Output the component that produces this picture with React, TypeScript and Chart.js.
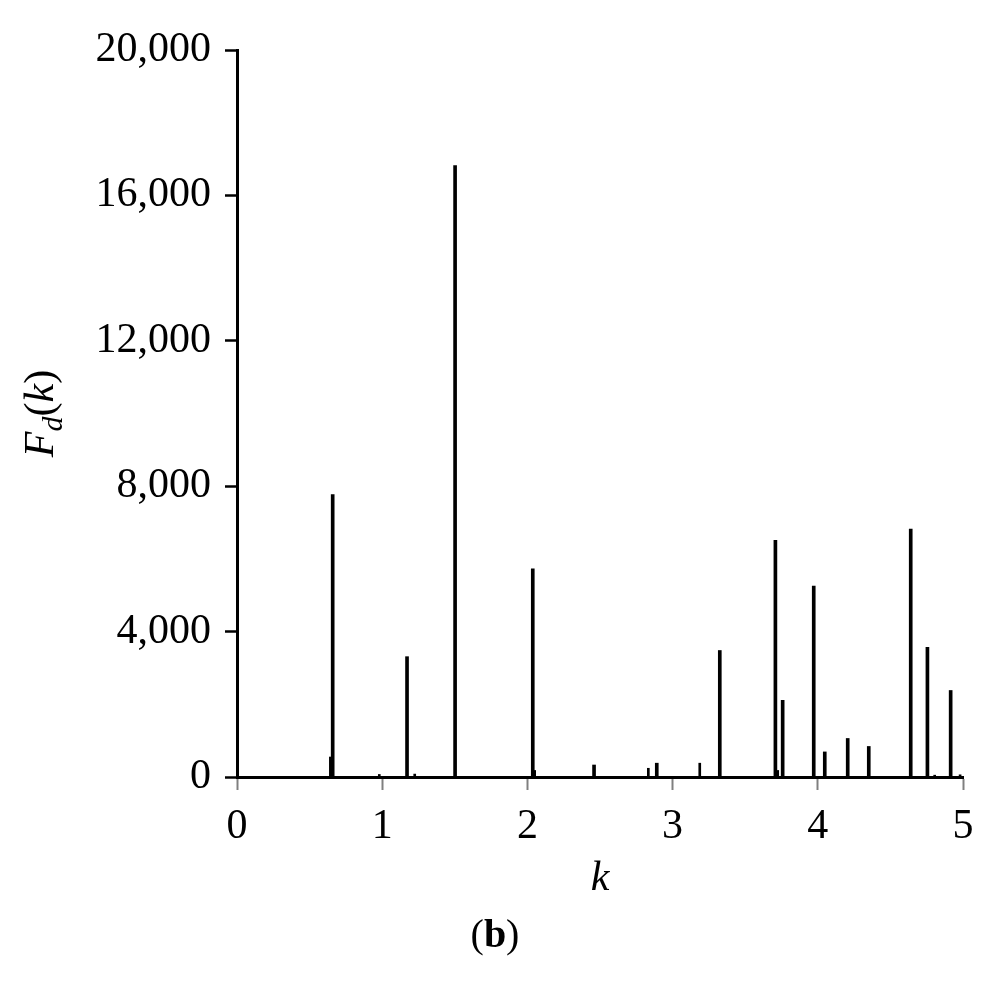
import React, { useEffect, useRef } from "react";
import { Chart, registerables } from "chart.js";

Chart.register(...registerables);

// Axis ticks
const xTicks = [0, 1, 2, 3, 4, 5];
const yTicks = [0, 4000, 8000, 12000, 16000, 20000];

// Main spectral lines: wavenumber k and amplitude F_d(k)
const majorK = [0.659, 1.171, 1.502, 2.037, 2.459, 2.891, 3.325, 3.708, 3.758, 3.972, 4.048, 4.206, 4.351, 4.64, 4.755, 4.915];
const majorF = [7770, 3310, 16820, 5730, 330, 380, 3480, 6510, 2110, 5250, 690, 1060, 840, 6820, 3570, 2380];

// Minor (thin) spectral lines
const minorK = [0.643, 0.98, 1.224, 2.05, 2.833, 3.187, 3.724, 4.805, 4.98];
const minorF = [550, 70, 80, 180, 240, 380, 180, 50, 60];

const FONT = '"Liberation Serif", "Times New Roman", serif';

const textPlugin = {
  id: "customText",
  afterDraw(chart: any) {
    const { ctx, chartArea } = chart;
    ctx.save();
    ctx.fillStyle = "#000";
    ctx.textBaseline = "alphabetic";
    // Y axis title F_d(k), rotated
    const parts = [
      { t: "F", f: `italic 42px ${FONT}`, dy: 0 },
      { t: "d", f: `italic 30px ${FONT}`, dy: 9 },
      { t: "(", f: `42px ${FONT}`, dy: 0 },
      { t: "k", f: `italic 42px ${FONT}`, dy: 0 },
      { t: ")", f: `42px ${FONT}`, dy: 0 },
    ];
    let total = 0;
    const widths: number[] = [];
    for (const p of parts) {
      ctx.font = p.f;
      const w = ctx.measureText(p.t).width;
      widths.push(w);
      total += w;
    }
    const cy = (chartArea.top + chartArea.bottom) / 2;
    ctx.save();
    ctx.translate(53, cy);
    ctx.rotate(-Math.PI / 2);
    let x = -total / 2;
    parts.forEach((p, i) => {
      ctx.font = p.f;
      ctx.fillText(p.t, x, p.dy);
      x += widths[i];
    });
    ctx.restore();

    // Caption (b)
    const cap = [
      { t: "(", f: `40px ${FONT}` },
      { t: "b", f: `bold 40px ${FONT}` },
      { t: ")", f: `40px ${FONT}` },
    ];
    let ctotal = 0;
    const cw: number[] = [];
    for (const p of cap) {
      ctx.font = p.f;
      const w = ctx.measureText(p.t).width;
      cw.push(w);
      ctotal += w;
    }
    let cx = 495 - ctotal / 2;
    cap.forEach((p, i) => {
      ctx.font = p.f;
      ctx.fillText(p.t, cx, 947);
      cx += cw[i];
    });
    ctx.restore();
  },
};

export default function App() {
  const ref = useRef<HTMLCanvasElement | null>(null);

  useEffect(() => {
    if (!ref.current) return;
    const chart = new Chart(ref.current, {
      type: "bar",
      data: {
        datasets: [
          {
            data: majorK.map((k, i) => ({ x: k, y: majorF[i] })),
            backgroundColor: "#000",
            borderWidth: 0,
            barThickness: 3,
            grouped: false,
          } as any,
          {
            data: minorK.map((k, i) => ({ x: k, y: minorF[i] })),
            backgroundColor: "#000",
            borderWidth: 0,
            barThickness: 2,
            grouped: false,
          } as any,
        ],
      },
      options: {
        responsive: false,
        animation: false,
        layout: { padding: { left: 0, right: 40, top: 50, bottom: 0 } },
        plugins: {
          legend: { display: false },
          tooltip: { enabled: false },
        },
        scales: {
          x: {
            type: "linear",
            min: 0,
            max: 5,
            offset: false,
            afterBuildTicks: (s: any) => {
              s.ticks = xTicks.map((v) => ({ value: v }));
            },
            afterFit: (s: any) => {
              s.height = 204;
            },
            ticks: {
              color: "#000",
              padding: 12,
              maxRotation: 0,
              font: { family: FONT, size: 42, lineHeight: 1.2 },
              callback: (v: any) => String(v),
            },
            grid: {
              offset: false,
              drawOnChartArea: false,
              drawTicks: true,
              tickLength: 13,
              tickColor: "#808080",
              tickWidth: 2,
            },
            border: { display: true, color: "#000", width: 3 },
            title: {
              display: true,
              text: "k",
              color: "#000",
              font: { family: FONT, size: 42, style: "italic", lineHeight: 1.2 },
              padding: { top: 0, bottom: 77 },
            },
          },
          y: {
            type: "linear",
            min: 0,
            max: 20000,
            afterBuildTicks: (s: any) => {
              s.ticks = yTicks.map((v) => ({ value: v }));
            },
            afterFit: (s: any) => {
              s.width = 237;
            },
            ticks: {
              color: "#000",
              padding: 14,
              font: { family: FONT, size: 42, lineHeight: 1.2 },
              callback: (v: any) => Number(v).toLocaleString("en-US"),
            },
            grid: {
              drawOnChartArea: false,
              drawTicks: true,
              tickLength: 12,
              tickColor: "#000",
              tickWidth: 2.5,
            },
            border: { display: true, color: "#000", width: 3 },
          },
        },
      },
      plugins: [textPlugin],
    });
    return () => chart.destroy();
  }, []);

  return (
    <div style={{ position: "absolute", left: 0, top: 0, width: 1003, height: 981, background: "#fff" }}>
      <canvas ref={ref} width={1003} height={981} style={{ display: "block" }} />
    </div>
  );
}
